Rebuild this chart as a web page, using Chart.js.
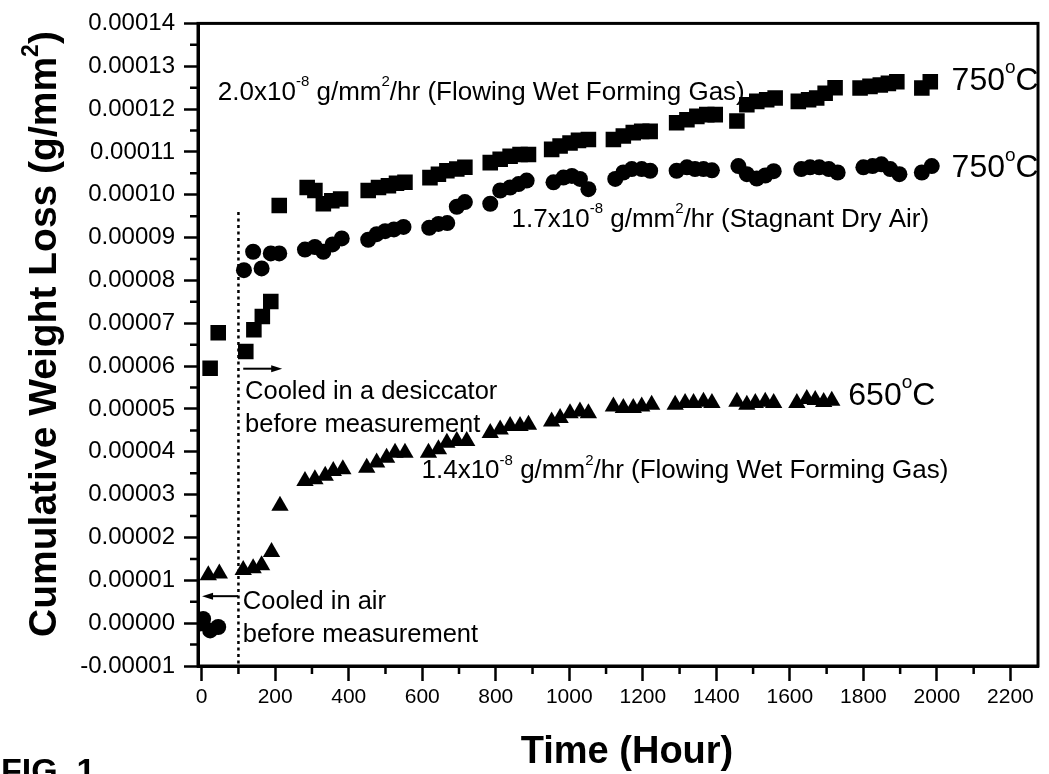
<!DOCTYPE html>
<html>
<head>
<meta charset="utf-8">
<script src="https://cdn.jsdelivr.net/npm/chart.js@4.4.0/dist/chart.umd.min.js"></script>
<style>
  html, body { margin: 0; padding: 0; background: #fff; }
  #wrap { width: 1049px; height: 774px; }
</style>
</head>
<body>
<div id="wrap"><canvas id="c" width="1049" height="774"></canvas></div>
<script>
// time in hours, cumulative weight loss in units of 1e-5 g/mm^2

// 750 C, flowing wet forming gas
const wetHours = [23, 45, 120, 142, 165, 188, 211,
  287, 308, 331, 354, 378,
  453, 481, 508, 530, 553,
  621, 644, 667, 694, 716,
  785, 812, 839, 866, 889,
  952, 975, 1002, 1025, 1052,
  1120, 1147, 1174, 1197, 1220,
  1292, 1320, 1347, 1374, 1397,
  1456, 1483, 1510, 1537, 1560,
  1623, 1651, 1673, 1696, 1723,
  1791, 1818, 1846, 1868, 1891,
  1959, 1982];
const wetLoss = [5.95, 6.78, 6.34, 6.85, 7.16, 7.51, 9.75,
  10.17, 10.1, 9.79, 9.86, 9.9,
  10.1, 10.17, 10.21, 10.27, 10.29,
  10.4, 10.48, 10.56, 10.6, 10.64,
  10.75, 10.83, 10.9, 10.94, 10.94,
  11.06, 11.14, 11.21, 11.27, 11.29,
  11.29, 11.37, 11.45, 11.48, 11.48,
  11.68, 11.75, 11.83, 11.87, 11.87,
  11.72, 12.1, 12.18, 12.22, 12.26,
  12.18, 12.22, 12.26, 12.37, 12.5,
  12.49, 12.53, 12.56, 12.6, 12.64,
  12.49, 12.64];

// 750 C, stagnant dry air
const dryHours = [-5, 4, 23, 45,
  115, 140, 163, 188, 211,
  281, 308, 331, 356, 381,
  453, 476, 499, 523, 549,
  619, 644, 668, 694, 716,
  785, 812, 839, 862, 884,
  957, 984, 1007, 1029, 1052,
  1125, 1147, 1170, 1197, 1220,
  1292, 1320, 1342, 1365, 1388,
  1460, 1483, 1510, 1533, 1556,
  1631, 1655, 1680, 1706, 1730,
  1800, 1825, 1849, 1873, 1898,
  1959, 1986];
const dryLoss = [-0.01, 0.1, -0.17, -0.09,
  8.24, 8.67, 8.28, 8.63, 8.63,
  8.72, 8.78, 8.67, 8.84, 8.98,
  8.95, 9.08, 9.15, 9.19, 9.25,
  9.23, 9.32, 9.34, 9.72, 9.83,
  9.79, 10.1, 10.17, 10.25, 10.33,
  10.29, 10.4, 10.44, 10.37, 10.13,
  10.37, 10.52, 10.6, 10.6, 10.56,
  10.56, 10.64, 10.6, 10.6, 10.57,
  10.67, 10.48, 10.38, 10.45, 10.55,
  10.6, 10.64, 10.64, 10.6, 10.52,
  10.64, 10.67, 10.71, 10.6, 10.48,
  10.52, 10.67];

// 650 C, flowing wet forming gas
const lowHours = [18, 48,
  113, 140, 163, 190, 213,
  281, 308, 336, 358, 384,
  449, 476, 503, 526, 553,
  617, 644, 667, 694, 721,
  785, 812, 839, 866, 889,
  952, 975, 1002, 1029, 1052,
  1120, 1147, 1174, 1197, 1224,
  1288, 1315, 1338, 1365, 1388,
  1456, 1483, 1506, 1533, 1556,
  1619, 1646, 1669, 1692, 1714];
const lowLoss = [1.12, 1.16,
  1.24, 1.28, 1.35, 1.66, 2.74,
  3.32, 3.36, 3.44, 3.55, 3.59,
  3.63, 3.75, 3.86, 3.98, 3.98,
  3.98, 4.06, 4.21, 4.25, 4.25,
  4.44, 4.52, 4.6, 4.6, 4.63,
  4.71, 4.79, 4.9, 4.94, 4.9,
  5.06, 5.02, 5.02, 5.06, 5.1,
  5.1, 5.14, 5.14, 5.17, 5.14,
  5.17, 5.1, 5.14, 5.17, 5.14,
  5.14, 5.23, 5.21, 5.16, 5.19];

const FONT = '"Liberation Sans", Arial, sans-serif';

function pts(xs, ys) {
  return xs.map((x, i) => ({ x, y: ys[i] }));
}

// labels placed in data coordinates (hours, 1e-5 g/mm^2)
const notes = [
  { x: 44, y: 12.22, size: 26, parts: ['2.0x10', { sup: '-8' }, ' g/mm', { sup: '2' }, '/hr (Flowing Wet Forming Gas)'] },
  { x: 843, y: 9.25, size: 26, parts: ['1.7x10', { sup: '-8' }, ' g/mm', { sup: '2' }, '/hr (Stagnant Dry Air)'] },
  { x: 598, y: 3.38, size: 26, parts: ['1.4x10', { sup: '-8' }, ' g/mm', { sup: '2' }, '/hr (Flowing Wet Forming Gas)'] },
  { x: 2040, y: 12.45, size: 32, parts: ['750', { sup: 'o' }, 'C'] },
  { x: 2040, y: 10.41, size: 32, parts: ['750', { sup: 'o' }, 'C'] },
  { x: 1759, y: 5.09, size: 32, parts: ['650', { sup: 'o' }, 'C'] },
  { x: 118, y: 5.23, size: 25.5, parts: ['Cooled in a desiccator'] },
  { x: 118, y: 4.46, size: 25.5, parts: ['before measurement'] },
  { x: 112, y: 0.34, size: 25.5, parts: ['Cooled in air'] },
  { x: 112, y: -0.44, size: 25.5, parts: ['before measurement'] }
];
const arrows = [
  { from: [113, 5.94], to: [219, 5.94] },
  { from: [99, 0.63], to: [1, 0.63] }
];

function richText(ctx, parts, x, y, size) {
  let cx = x;
  parts.forEach(p => {
    const sup = typeof p !== 'string';
    const t = sup ? p.sup : p;
    ctx.font = (sup ? Math.round(size * 0.58) : size) + 'px ' + FONT;
    ctx.fillText(t, cx, sup ? y - size * 0.52 : y);
    cx += ctx.measureText(t).width;
  });
}

const extras = {
  id: 'extras',
  afterDraw(chart) {
    const { ctx, chartArea: a, scales: { x, y } } = chart;
    ctx.save();
    ctx.fillStyle = '#000';
    ctx.strokeStyle = '#000';

    // frame
    ctx.lineWidth = 3;
    ctx.strokeRect(a.left, a.top, a.right - a.left, a.bottom - a.top);

    // minor ticks
    ctx.lineWidth = 2.5;
    ctx.beginPath();
    for (let h = 100; h < x.max; h += 200) {
      const px = x.getPixelForValue(h);
      ctx.moveTo(px, a.bottom);
      ctx.lineTo(px, a.bottom + 8);
    }
    for (let v = -0.5; v < y.max; v += 1) {
      const py = y.getPixelForValue(v);
      ctx.moveTo(a.left, py);
      ctx.lineTo(a.left - 8, py);
    }
    ctx.stroke();

    // dotted marker at 100 h
    ctx.lineWidth = 2.5;
    ctx.setLineDash([3, 3.5]);
    ctx.beginPath();
    ctx.moveTo(x.getPixelForValue(100), y.getPixelForValue(9.6));
    ctx.lineTo(x.getPixelForValue(100), a.bottom);
    ctx.stroke();
    ctx.setLineDash([]);

    // arrows
    ctx.lineWidth = 2;
    arrows.forEach(ar => {
      const x0 = x.getPixelForValue(ar.from[0]), x1 = x.getPixelForValue(ar.to[0]);
      const py = y.getPixelForValue(ar.from[1]);
      const dir = Math.sign(x1 - x0);
      ctx.beginPath();
      ctx.moveTo(x0, py);
      ctx.lineTo(x1 - dir * 8, py);
      ctx.stroke();
      ctx.beginPath();
      ctx.moveTo(x1, py);
      ctx.lineTo(x1 - dir * 11, py - 3.5);
      ctx.lineTo(x1 - dir * 11, py + 3.5);
      ctx.closePath();
      ctx.fill();
    });

    // text labels
    ctx.textBaseline = 'alphabetic';
    ctx.textAlign = 'left';
    notes.forEach(n => {
      richText(ctx, n.parts, x.getPixelForValue(n.x), y.getPixelForValue(n.y), n.size);
    });

    // axis titles
    ctx.font = 'bold 38px ' + FONT;
    ctx.textAlign = 'center';
    ctx.fillText('Time (Hour)', 627, 763);

    ctx.save();
    ctx.translate(56, 334);
    ctx.rotate(-Math.PI / 2);
    const main = 'Cumulative Weight Loss (g/mm';
    ctx.font = 'bold 39px ' + FONT;
    const w1 = ctx.measureText(main).width;
    ctx.font = 'bold 23px ' + FONT;
    const w2 = ctx.measureText('2').width;
    ctx.font = 'bold 39px ' + FONT;
    const w3 = ctx.measureText(')').width;
    let sx = -(w1 + w2 + w3) / 2;
    ctx.textAlign = 'left';
    ctx.fillText(main, sx, 0);
    sx += w1;
    ctx.font = 'bold 23px ' + FONT;
    ctx.fillText('2', sx, -18);
    sx += w2;
    ctx.font = 'bold 39px ' + FONT;
    ctx.fillText(')', sx, 0);
    ctx.restore();

    // figure number, cut by the page edge
    ctx.font = 'bold 34px ' + FONT;
    ctx.textAlign = 'left';
    ctx.fillText('FIG. 1', 1, 782);

    ctx.restore();
  }
};

new Chart(document.getElementById('c'), {
  type: 'scatter',
  data: {
    datasets: [
      { data: pts(wetHours, wetLoss), pointStyle: 'rect', pointRadius: 11 },
      { data: pts(dryHours, dryLoss), pointStyle: 'circle', pointRadius: 8 },
      { data: pts(lowHours, lowLoss), pointStyle: 'triangle', pointRadius: 10 }
    ].map(d => Object.assign(d, {
      backgroundColor: '#000', borderColor: '#000', borderWidth: 0, showLine: false
    }))
  },
  options: {
    responsive: false,
    animation: false,
    devicePixelRatio: 1,
    layout: { padding: { top: 18, right: 11, left: 0, bottom: 0 } },
    plugins: { legend: { display: false }, tooltip: { enabled: false } },
    scales: {
      x: {
        type: 'linear', min: -10, max: 2275,
        afterFit: s => { s.height = 108; },
        ticks: { stepSize: 200, includeBounds: false, autoSkip: false, maxRotation: 0,
          callback: v => String(v), color: '#000', font: { family: FONT, size: 21 }, padding: 4 },
        grid: { drawOnChartArea: false, tickLength: 15, tickWidth: 2.5, tickColor: '#000' },
        border: { color: '#000', width: 3 }
      },
      y: {
        type: 'linear', min: -1, max: 14,
        afterFit: s => { s.width = 198; },
        ticks: { stepSize: 1, includeBounds: false, autoSkip: false,
          callback: v => (v / 1e5).toFixed(5), color: '#000', font: { family: FONT, size: 24 }, padding: 9 },
        grid: { drawOnChartArea: false, tickLength: 14, tickWidth: 2.5, tickColor: '#000' },
        border: { color: '#000', width: 3 }
      }
    }
  },
  plugins: [extras]
});
</script>
</body>
</html>
